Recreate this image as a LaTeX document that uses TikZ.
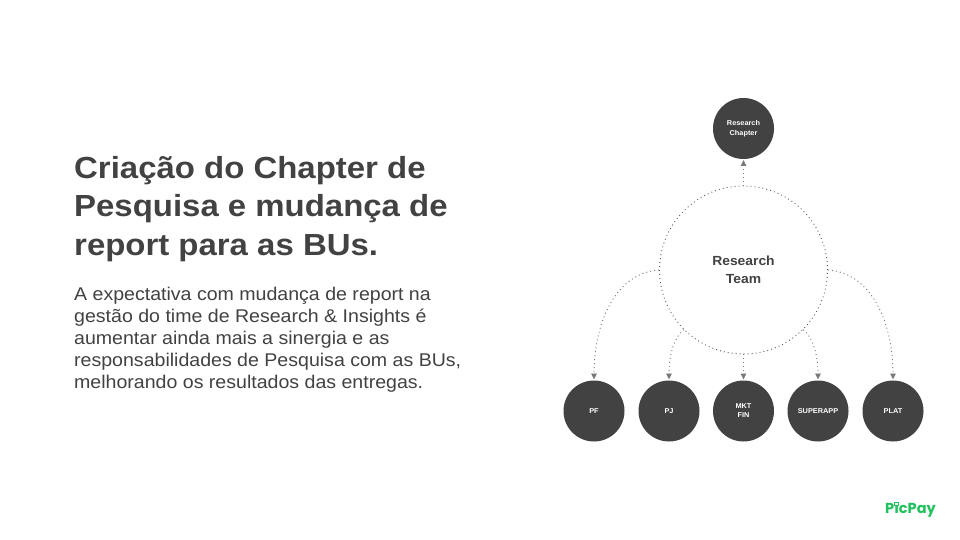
\documentclass[tikz,border=0pt]{standalone}
\usepackage{fontspec}
\setmainfont{Liberation Sans}
\newfontfamily\titlefont[FakeStretch=1.08]{Liberation Sans}
\newfontfamily\copyfont[FakeStretch=1.063]{Liberation Sans}
\newfontfamily\labelfont[FakeStretch=1.05]{Liberation Sans}
\newfontfamily\logofont{Poppins}
\usetikzlibrary{arrows.meta}
\definecolor{ink}{HTML}{424242}
\definecolor{ringgrey}{HTML}{5A5A5A}
\definecolor{linkgrey}{HTML}{7A7A7A}
\definecolor{pic}{HTML}{21C25E}
\tikzset{
  x=1pt,y=-1pt,
  unit/.style={circle,fill=ink,draw=none,minimum size=61pt,inner sep=0pt,text=white,align=center,font=\labelfont\bfseries\fontsize{7}{9}\selectfont},
  hub/.style={circle,draw=ringgrey,line width=.9pt,dash pattern=on .9pt off 3.1pt,minimum size=168pt,inner sep=0pt,text=ink,align=center,font=\labelfont\bfseries\fontsize{13.2}{18}\selectfont},
  link/.style={draw=linkgrey,line width=.9pt,dash pattern=on 1pt off 3pt,-{Triangle[length=6pt,width=5.5pt,fill=linkgrey]},shorten >=.8pt},
  headline/.style={anchor=north west,inner sep=0pt,text=ink,align=left,font=\titlefont\bfseries\fontsize{30.5}{38.5}\selectfont},
  copyblock/.style={anchor=north west,inner sep=0pt,text=ink,align=left,font=\copyfont\fontsize{18.4}{22}\selectfont},
}
\begin{document}
\begin{tikzpicture}
\useasboundingbox[fill=white] (0,0) rectangle (960,540);
\node[headline] (title) at (74,156) {Criação do Chapter de\\Pesquisa e mudança de\\report para as BUs.};
\node[copyblock] (body) at (74,287) {A expectativa com mudança de report na\\gestão do time de Research \& Insights é\\aumentar ainda mais a sinergia e as\\responsabilidades de Pesquisa com as BUs,\\melhorando os resultados das entregas.};
\node[hub] (team) at (743.5,270) {Research\\Team};
\node[unit] (chapter) at (743.5,128.5) {\raisebox{-1pt}{\shortstack{Research\\[1.5pt]Chapter}}};
\node[unit] (pf) at (594,411) {PF};
\node[unit] (pj) at (669,411) {PJ};
\node[unit] (mkt) at (743.5,411) {MKT\\FIN};
\node[unit] (super) at (818,411) {SUPERAPP};
\node[unit] (plat) at (893,411) {PLAT};
\draw[link] (team.north) -- (chapter.south);
\draw[link] (team.west) .. controls +(-45,3) and +(0,-55) .. (pf.north);
\draw[link] (team.225) .. controls +(-10,8) and +(0,-25) .. (pj.north);
\draw[link] (team.south) -- (mkt.north);
\draw[link] (team.315) .. controls +(10,8) and +(0,-25) .. (super.north);
\draw[link] (team.east) .. controls +(45,3) and +(0,-55) .. (plat.north);
\node[anchor=center,inner sep=0pt,text=pic,font=\logofont\bfseries\fontsize{14.5}{15}\selectfont] (logo) at (910.5,510) {P\char"0131 cPay};
\draw[pic,line width=1pt] (894.9,502) rectangle (898.5,505.4);
\end{tikzpicture}
\end{document}
